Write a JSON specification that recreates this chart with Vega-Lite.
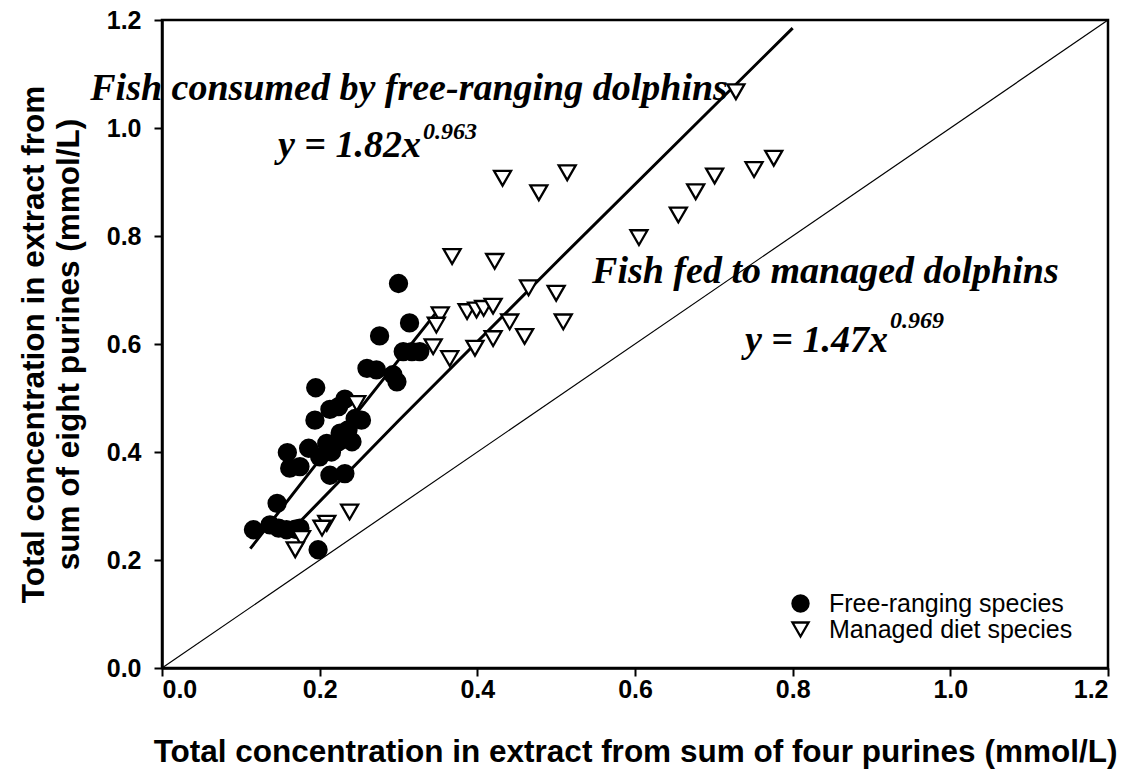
{
  "$schema": "https://vega.github.io/schema/vega-lite/v6.json",
  "width": 946,
  "height": 648,
  "autosize": {"type": "none"},
  "padding": {"left": 162, "top": 20, "right": 19, "bottom": 105},
  "background": "white",
  "config": {
    "view": {"stroke": "black", "strokeWidth": 2.5}
  },
  "datasets": {
    "identity": [{"x": 0, "y": 0}, {"x": 1.2, "y": 1.2}],
    "fits": [
      {"fit": "Free-ranging", "x": 0.112, "y": 0.221},
      {"fit": "Free-ranging", "x": 0.2, "y": 0.386},
      {"fit": "Free-ranging", "x": 0.352, "y": 0.666},
      {"fit": "Managed", "x": 0.165, "y": 0.256},
      {"fit": "Managed", "x": 0.3, "y": 0.458},
      {"fit": "Managed", "x": 0.5, "y": 0.751},
      {"fit": "Managed", "x": 0.8, "y": 1.185}
    ],
    "points": [
      {"group": "Free-ranging species", "x": 0.300, "y": 0.712},
      {"group": "Free-ranging species", "x": 0.314, "y": 0.639},
      {"group": "Free-ranging species", "x": 0.276, "y": 0.615},
      {"group": "Free-ranging species", "x": 0.306, "y": 0.586},
      {"group": "Free-ranging species", "x": 0.317, "y": 0.586},
      {"group": "Free-ranging species", "x": 0.327, "y": 0.586},
      {"group": "Free-ranging species", "x": 0.260, "y": 0.555},
      {"group": "Free-ranging species", "x": 0.272, "y": 0.552},
      {"group": "Free-ranging species", "x": 0.293, "y": 0.543},
      {"group": "Free-ranging species", "x": 0.298, "y": 0.530},
      {"group": "Free-ranging species", "x": 0.195, "y": 0.519},
      {"group": "Free-ranging species", "x": 0.232, "y": 0.498},
      {"group": "Free-ranging species", "x": 0.213, "y": 0.479},
      {"group": "Free-ranging species", "x": 0.224, "y": 0.484},
      {"group": "Free-ranging species", "x": 0.194, "y": 0.459},
      {"group": "Free-ranging species", "x": 0.253, "y": 0.459},
      {"group": "Free-ranging species", "x": 0.245, "y": 0.462},
      {"group": "Free-ranging species", "x": 0.226, "y": 0.435},
      {"group": "Free-ranging species", "x": 0.236, "y": 0.441},
      {"group": "Free-ranging species", "x": 0.241, "y": 0.419},
      {"group": "Free-ranging species", "x": 0.224, "y": 0.419},
      {"group": "Free-ranging species", "x": 0.215, "y": 0.400},
      {"group": "Free-ranging species", "x": 0.186, "y": 0.407},
      {"group": "Free-ranging species", "x": 0.209, "y": 0.416},
      {"group": "Free-ranging species", "x": 0.159, "y": 0.399},
      {"group": "Free-ranging species", "x": 0.200, "y": 0.391},
      {"group": "Free-ranging species", "x": 0.162, "y": 0.370},
      {"group": "Free-ranging species", "x": 0.175, "y": 0.373},
      {"group": "Free-ranging species", "x": 0.213, "y": 0.357},
      {"group": "Free-ranging species", "x": 0.232, "y": 0.360},
      {"group": "Free-ranging species", "x": 0.146, "y": 0.305},
      {"group": "Free-ranging species", "x": 0.116, "y": 0.256},
      {"group": "Free-ranging species", "x": 0.137, "y": 0.265},
      {"group": "Free-ranging species", "x": 0.148, "y": 0.259},
      {"group": "Free-ranging species", "x": 0.158, "y": 0.256},
      {"group": "Free-ranging species", "x": 0.169, "y": 0.257},
      {"group": "Free-ranging species", "x": 0.175, "y": 0.259},
      {"group": "Free-ranging species", "x": 0.198, "y": 0.219},
      {"group": "Managed diet species", "x": 0.728, "y": 1.067},
      {"group": "Managed diet species", "x": 0.432, "y": 0.907},
      {"group": "Managed diet species", "x": 0.478, "y": 0.880},
      {"group": "Managed diet species", "x": 0.514, "y": 0.917},
      {"group": "Managed diet species", "x": 0.701, "y": 0.911},
      {"group": "Managed diet species", "x": 0.677, "y": 0.882},
      {"group": "Managed diet species", "x": 0.655, "y": 0.839},
      {"group": "Managed diet species", "x": 0.605, "y": 0.797},
      {"group": "Managed diet species", "x": 0.751, "y": 0.923},
      {"group": "Managed diet species", "x": 0.776, "y": 0.944},
      {"group": "Managed diet species", "x": 0.368, "y": 0.762},
      {"group": "Managed diet species", "x": 0.422, "y": 0.753},
      {"group": "Managed diet species", "x": 0.465, "y": 0.704},
      {"group": "Managed diet species", "x": 0.500, "y": 0.694},
      {"group": "Managed diet species", "x": 0.509, "y": 0.641},
      {"group": "Managed diet species", "x": 0.460, "y": 0.614},
      {"group": "Managed diet species", "x": 0.420, "y": 0.610},
      {"group": "Managed diet species", "x": 0.441, "y": 0.641},
      {"group": "Managed diet species", "x": 0.387, "y": 0.660},
      {"group": "Managed diet species", "x": 0.399, "y": 0.663},
      {"group": "Managed diet species", "x": 0.408, "y": 0.666},
      {"group": "Managed diet species", "x": 0.420, "y": 0.670},
      {"group": "Managed diet species", "x": 0.353, "y": 0.654},
      {"group": "Managed diet species", "x": 0.348, "y": 0.635},
      {"group": "Managed diet species", "x": 0.397, "y": 0.592},
      {"group": "Managed diet species", "x": 0.365, "y": 0.573},
      {"group": "Managed diet species", "x": 0.344, "y": 0.595},
      {"group": "Managed diet species", "x": 0.247, "y": 0.490},
      {"group": "Managed diet species", "x": 0.238, "y": 0.289},
      {"group": "Managed diet species", "x": 0.209, "y": 0.268},
      {"group": "Managed diet species", "x": 0.203, "y": 0.259},
      {"group": "Managed diet species", "x": 0.177, "y": 0.240},
      {"group": "Managed diet species", "x": 0.169, "y": 0.219}
    ],
    "titles": [
      {"x": -0.091, "y": 1.052, "label": "Fish consumed by free-ranging dolphins"},
      {"x": 0.147, "y": 0.946, "label": "y = 1.82x"},
      {"x": 0.5455, "y": 0.713, "label": "Fish fed to managed dolphins"},
      {"x": 0.7395, "y": 0.585, "label": "y = 1.47x"}
    ],
    "supers": [
      {"x": 0.331, "y": 0.980, "label": "0.963"},
      {"x": 0.9235, "y": 0.630, "label": "0.969"}
    ]
  },
  "layer": [
    {
      "data": {"name": "identity"},
      "mark": {"type": "line", "color": "black", "strokeWidth": 1.2},
      "encoding": {
        "x": {
          "field": "x", "type": "quantitative",
          "scale": {"domain": [0, 1.2], "nice": false},
          "axis": {
            "values": [0, 0.2, 0.4, 0.6, 0.8, 1.0, 1.2], "format": ".1f", "grid": false,
            "domainColor": "black", "domainWidth": 2.5, "tickColor": "black", "tickWidth": 2, "tickSize": 8,
            "labelFont": "Liberation Sans", "labelFontWeight": "bold", "labelFontSize": 25, "labelColor": "black", "labelPadding": 1,
            "titleFont": "Liberation Sans", "titleFontWeight": "bold", "titleFontSize": 31.5, "titleColor": "black", "titlePadding": 34
          },
          "title": "Total concentration in extract from sum of four purines (mmol/L)"
        },
        "y": {
          "field": "y", "type": "quantitative",
          "scale": {"domain": [0, 1.2], "nice": false},
          "axis": {
            "values": [0, 0.2, 0.4, 0.6, 0.8, 1.0, 1.2], "format": ".1f", "grid": false,
            "domainColor": "black", "domainWidth": 2.5, "tickColor": "black", "tickWidth": 2, "tickSize": 8,
            "labelFont": "Liberation Sans", "labelFontWeight": "bold", "labelFontSize": 25, "labelColor": "black", "labelPadding": 13,
            "titleFont": "Liberation Sans", "titleFontWeight": "bold", "titleFontSize": 31.5, "titleColor": "black", "titlePadding": 21, "titleLineHeight": 35
          },
          "title": ["Total concentration in extract from", "sum of eight purines (mmol/L)"]
        }
      }
    },
    {
      "data": {"name": "fits"},
      "mark": {"type": "line", "color": "black", "strokeWidth": 3},
      "encoding": {
        "x": {"field": "x", "type": "quantitative"},
        "y": {"field": "y", "type": "quantitative"},
        "detail": {"field": "fit"}
      }
    },
    {
      "data": {"name": "points"},
      "mark": {"type": "point", "filled": true, "strokeWidth": 2.3, "opacity": 1, "size": 290},
      "encoding": {
        "x": {"field": "x", "type": "quantitative"},
        "y": {"field": "y", "type": "quantitative"},
        "shape": {
          "field": "group", "type": "nominal",
          "scale": {"domain": ["Free-ranging species", "Managed diet species"], "range": ["circle", "triangle-down"]},
          "legend": {
            "title": null, "orient": "none", "legendX": 626, "legendY": 571, "padding": 0, "rowPadding": 0,
            "labelFont": "Liberation Sans", "labelFontSize": 25, "labelColor": "black", "labelOffset": 16, "labelLimit": 0,
            "symbolSize": 260, "symbolStrokeWidth": 2.3
          }
        },
        "fill": {
          "field": "group", "type": "nominal",
          "scale": {"domain": ["Free-ranging species", "Managed diet species"], "range": ["black", "white"]},
          "legend": {
            "title": null, "orient": "none", "legendX": 626, "legendY": 571, "padding": 0, "rowPadding": 0,
            "labelFont": "Liberation Sans", "labelFontSize": 25, "labelColor": "black", "labelOffset": 16, "labelLimit": 0,
            "symbolSize": 260, "symbolStrokeWidth": 2.3
          }
        },
        "stroke": {
          "field": "group", "type": "nominal",
          "scale": {"domain": ["Free-ranging species", "Managed diet species"], "range": ["black", "black"]},
          "legend": {
            "title": null, "orient": "none", "legendX": 626, "legendY": 571, "padding": 0, "rowPadding": 0,
            "labelFont": "Liberation Sans", "labelFontSize": 25, "labelColor": "black", "labelOffset": 16, "labelLimit": 0,
            "symbolSize": 260, "symbolStrokeWidth": 2.3
          }
        }
      }
    },
    {
      "data": {"name": "titles"},
      "mark": {"type": "text", "align": "left", "baseline": "alphabetic", "font": "Liberation Serif", "fontStyle": "italic", "fontWeight": "bold", "fontSize": 38, "color": "black"},
      "encoding": {
        "x": {"field": "x", "type": "quantitative"},
        "y": {"field": "y", "type": "quantitative"},
        "text": {"field": "label"}
      }
    },
    {
      "data": {"name": "supers"},
      "mark": {"type": "text", "align": "left", "baseline": "alphabetic", "font": "Liberation Serif", "fontStyle": "italic", "fontWeight": "bold", "fontSize": 24, "color": "black"},
      "encoding": {
        "x": {"field": "x", "type": "quantitative"},
        "y": {"field": "y", "type": "quantitative"},
        "text": {"field": "label"}
      }
    }
  ]
}
